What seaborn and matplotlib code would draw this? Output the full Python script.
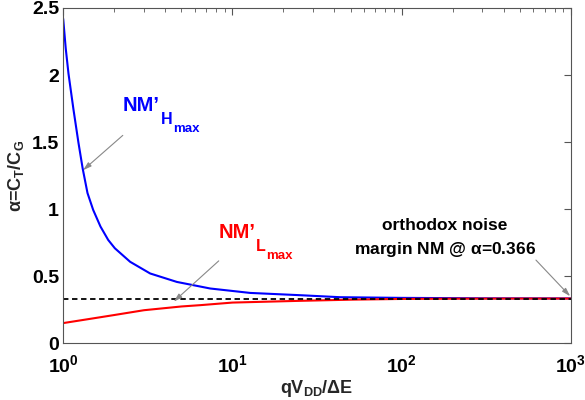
import numpy as np
import pandas as pd
import matplotlib
matplotlib.use("Agg")
import matplotlib.pyplot as plt
import seaborn as sns
from matplotlib.ticker import LogLocator, NullFormatter

# data
x_high = [1.0, 1.035, 1.075, 1.150, 1.231, 1.304, 1.392, 1.504, 1.661, 1.845, 2.02, 2.487, 3.265,
          4.695, 7.385, 12.72, 25.1, 43.3, 100, 300, 1000]
nm_high = [2.42, 2.2, 2.01, 1.744, 1.495, 1.302, 1.12, 0.994, 0.87, 0.77, 0.708, 0.607, 0.52,
           0.457, 0.408, 0.375, 0.358, 0.343, 0.338, 0.335, 0.334]
x_low = [1.0, 1.5, 2.0, 3.0, 5.0, 6.5, 10, 25, 52, 100, 200, 500, 1000]
nm_low = [0.15, 0.185, 0.21, 0.246, 0.274, 0.284, 0.303, 0.316, 0.325, 0.330, 0.332, 0.333, 0.333]
alpha_orthodox = 0.333

sns.set_style("white")
plt.rcParams['font.family'] = ['Liberation Sans', 'DejaVu Sans']
plt.rcParams['mathtext.fontset'] = 'custom'
plt.rcParams['mathtext.rm'] = 'Liberation Sans:bold'
plt.rcParams['mathtext.it'] = 'Liberation Sans:bold'

fig, ax = plt.subplots(figsize=(5.85, 4.0), dpi=100)
fig.subplots_adjust(left=0.108, right=0.976, top=0.98, bottom=0.142)

df_h = pd.DataFrame({"x": x_high, "y": nm_high})
df_l = pd.DataFrame({"x": x_low, "y": nm_low})
sns.lineplot(data=df_h, x="x", y="y", ax=ax, color="#0000ff", lw=1.5)
sns.lineplot(data=df_l, x="x", y="y", ax=ax, color="#ff0000", lw=1.5)
ax.axhline(alpha_orthodox, color="black", ls=(0, (3, 2)), lw=1.3)

ax.set_xscale("log")
ax.set_xlim(1, 1000)
ax.set_ylim(0, 2.5)
ax.set_yticks([0, 0.5, 1, 1.5, 2, 2.5])
ax.set_yticklabels(["0", "0.5", "1", "1.5", "2", "2.5"])
ax.set_xticks([1, 10, 100, 1000])
ax.set_xticklabels([r"$10^0$", r"$10^1$", r"$10^2$", r"$10^3$"])
ax.xaxis.set_minor_locator(LogLocator(base=10, subs=np.arange(2, 10)))
ax.xaxis.set_minor_formatter(NullFormatter())
ax.tick_params(axis="both", which="both", direction="in", top=True, right=True,
               labelsize=14, colors="#555555", labelcolor="black")
ax.tick_params(which="major", length=5)
ax.tick_params(which="minor", length=3)
ax.tick_params(axis="x", pad=8)
ax.tick_params(axis="y", pad=3)
for lab in ax.get_yticklabels() + ax.get_xticklabels():
    lab.set_fontweight("bold")
for s in ax.spines.values():
    s.set_color("#555555")
    s.set_linewidth(0.8)

ax.set_xlabel(r"qV$_{DD}$/$\Delta$E", fontsize=13, fontweight="bold")
ax.xaxis.set_label_coords(0.5, -0.105)
ax.set_ylabel(r"$\alpha$=C$_T$/C$_G$", fontsize=13, fontweight="bold")

arrow = dict(arrowstyle="-|>,head_length=0.5,head_width=0.15", color="#888888", lw=0.8,
             shrinkA=0, shrinkB=0)


def label_with_subs(x, y, main, sub, subsub, color):
    t = ax.text(x, y, main, color=color, fontsize=14.5, fontweight="bold",
                ha="left", va="baseline")
    t2 = ax.annotate(sub, xy=(1, 0), xycoords=t, xytext=(0.5, -8.5), textcoords="offset points",
                     color=color, fontsize=11.5, fontweight="bold",
                     ha="left", va="bottom")
    ax.annotate(subsub, xy=(1, 0), xycoords=t2, xytext=(0.3, -6), textcoords="offset points",
                color=color, fontsize=9.5, fontweight="bold",
                ha="left", va="bottom")


label_with_subs(2.26, 1.73, "NM\u2019", "H", "max", "#0000ff")
label_with_subs(8.26, 0.785, "NM\u2019", "L", "max", "#ff0000")

ax.annotate("", xy=(1.31, 1.29), xytext=(2.25, 1.55), arrowprops=arrow)
ax.annotate("", xy=(4.5, 0.31), xytext=(8.3, 0.614), arrowprops=arrow)
ax.annotate("", xy=(990, 0.35), xytext=(621, 0.62), arrowprops=arrow)

ax.text(180, 0.878, "orthodox noise", color="black", fontsize=12.5, fontweight="bold",
        ha="center", va="center")
ax.text(180, 0.698, "margin NM @ " + r"$\alpha$" + "=0.366", color="black", fontsize=12.5,
        fontweight="bold", ha="center", va="center")

fig.savefig("out.png", dpi=100)
